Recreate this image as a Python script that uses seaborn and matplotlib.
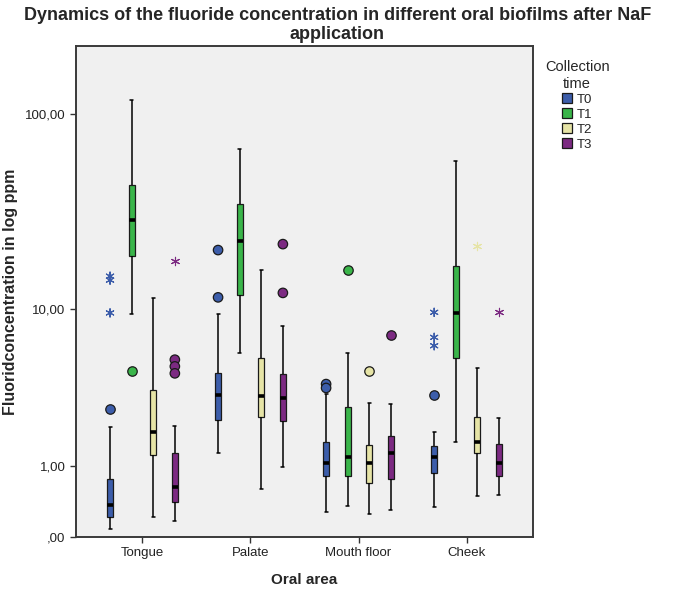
import numpy as np
import pandas as pd
import matplotlib
matplotlib.use("Agg")
import matplotlib.pyplot as plt
import seaborn as sns
from matplotlib.ticker import NullLocator

# categories
areas = ["Tongue", "Palate", "Mouth floor", "Cheek"]
times = ["T0", "T1", "T2", "T3"]
colors = ["#3C5DAA", "#3AB54A", "#E6E4A6", "#7C2A82"]

y_ticks = [0, 1, 10, 100]
y_tick_labels = [",00", "1,00", "10,00", "100,00"]

# five-number summaries, rows = oral area, columns = collection time
whisk_lo = [[0.08, 9.5, 0.20, 0.16],
            [1.28, 5.8, 0.58, 0.98],
            [0.26, 0.34, 0.24, 0.29],
            [0.33, 1.58, 0.48, 0.49]]
q1 = [[0.21, 19.0, 1.25, 0.40],
      [2.25, 12.0, 2.37, 2.20],
      [0.80, 0.81, 0.69, 0.76],
      [0.86, 5.42, 1.29, 0.80]]
median = [[0.36, 29.4, 1.86, 0.62],
          [3.28, 22.8, 3.21, 3.12],
          [1.06, 1.20, 1.06, 1.28],
          [1.19, 9.53, 1.58, 1.06]]
q3 = [[0.76, 43.8, 3.51, 1.29],
      [4.42, 35.4, 5.42, 4.38],
      [1.57, 2.72, 1.49, 1.75],
      [1.47, 16.9, 2.34, 1.53]]
whisk_hi = [[2.00, 117.8, 11.5, 2.05],
            [9.49, 66.6, 16.1, 8.14],
            [3.30, 5.73, 2.91, 2.87],
            [1.86, 58.4, 4.70, 2.33]]

# outliers (circles)
out_area = ["Tongue", "Tongue", "Tongue", "Tongue", "Tongue",
            "Palate", "Palate", "Palate", "Palate",
            "Mouth floor", "Mouth floor", "Mouth floor", "Mouth floor", "Mouth floor",
            "Cheek"]
out_time = ["T0", "T1", "T3", "T3", "T3",
            "T0", "T0", "T3", "T3",
            "T0", "T0", "T1", "T2", "T3",
            "T0"]
out_value = [2.65, 4.56, 5.28, 4.83, 4.40,
             11.6, 20.5, 12.25, 22.0,
             3.80, 3.60, 16.1, 4.56, 7.26,
             3.28]

# extreme values (stars)
ext_area = ["Tongue", "Tongue", "Tongue", "Tongue", "Cheek", "Cheek", "Cheek", "Cheek", "Cheek"]
ext_time = ["T0", "T0", "T0", "T3", "T0", "T0", "T0", "T2", "T3"]
ext_value = [9.58, 14.3, 15.0, 18.1, 9.65, 7.05, 6.33, 21.6, 9.7]

rows = []
for i, area in enumerate(areas):
    for j, t in enumerate(times):
        for v in (whisk_lo[i][j], q1[i][j], median[i][j], q3[i][j], whisk_hi[i][j]):
            rows.append({"area": area, "time": t, "value": v})
box_df = pd.DataFrame(rows)
out_df = pd.DataFrame({"area": out_area, "time": out_time, "value": out_value})
ext_df = pd.DataFrame({"area": ext_area, "time": ext_time, "value": ext_value})


def fwd(v):
    return np.log10(np.maximum(v, -0.79) + 0.8)


def inv(y):
    return 10 ** y - 0.8


sns.set_style("ticks")
plt.rcParams["font.family"] = ["Liberation Sans", "DejaVu Sans"]

fig = plt.figure(figsize=(6.75, 5.92), dpi=100)
ax = fig.add_axes([0.1126, 0.0929, 0.677, 0.8294])
ax.set_facecolor("#F0F0F0")
ax.set_yscale("function", functions=(fwd, inv))

sns.boxplot(data=box_df, x="area", y="value", hue="time", order=areas, hue_order=times,
            palette=colors, saturation=1, whis=np.inf, width=0.8, gap=0.72,
            linewidth=0.9, linecolor="#1a1a1a",
            medianprops={"color": "black", "linewidth": 2.6},
            whiskerprops={"color": "black", "linewidth": 1.1},
            capprops={"color": "black", "linewidth": 1.1}, ax=ax)

sns.stripplot(data=out_df, x="area", y="value", hue="time", order=areas, hue_order=times,
              palette=colors, dodge=True, jitter=False, size=6.8, linewidth=0.9,
              edgecolor="#1a1a1a", marker="o", legend=False, ax=ax)

sns.stripplot(data=ext_df, x="area", y="value", hue="time", order=areas, hue_order=times,
              palette=colors, dodge=True, jitter=False, size=6, linewidth=0.8,
              edgecolor="face", marker=(6, 2, 0), legend=False, ax=ax)

ax.set_ylim(0, 219)
ax.set_xlim(-0.615, 3.615)
ax.set_yticks(y_ticks)
ax.set_yticklabels(y_tick_labels)
ax.yaxis.set_minor_locator(NullLocator())
ax.tick_params(axis="both", length=4, width=1, color="#333333", labelsize=9.5, labelcolor="#222222")
for s in ax.spines.values():
    s.set_color("#3a3a3a")
    s.set_linewidth(1.4)

ax.set_xlabel("Oral area", fontsize=11, fontweight="bold", labelpad=10)
ax.set_ylabel("Fluoridconcentration in log ppm", fontsize=11.5, fontweight="bold")
ax.yaxis.set_label_coords(-0.128, 0.5)

fig.text(0.5, 0.988,
         "Dynamics of the fluoride concentration in different oral biofilms after NaF\napplication",
         ha="center", va="top", fontsize=13, fontweight="bold", linespacing=1.12)

sns.move_legend(ax, "upper left", bbox_to_anchor=(1.0, 0.995), title="Collection\ntime",
                frameon=False, handlelength=0.8, handleheight=0.8, handletextpad=0.35,
                labelspacing=0.18, fontsize=9.5, title_fontsize=10.5, alignment="center")
ax.get_legend().get_title().set_multialignment("center")

fig.savefig("out.png", dpi=100)
